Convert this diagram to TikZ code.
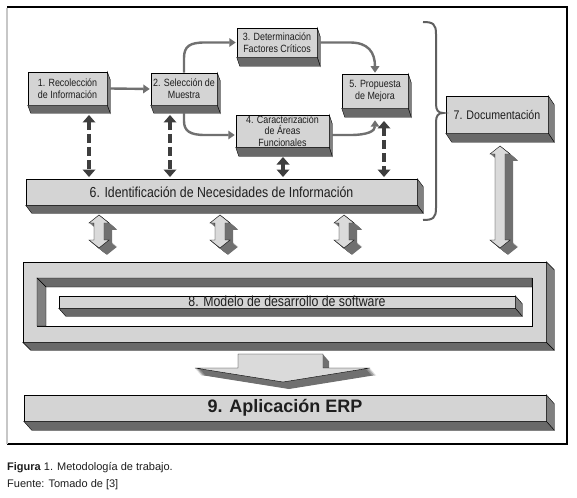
\documentclass[tikz,border=0pt]{standalone}
\usepackage{fontspec}
\setmainfont{Liberation Sans}
\newfontfamily\narrowfont[FakeStretch=0.85]{Liberation Sans}
\usetikzlibrary{calc,arrows.meta}
\definecolor{frontc}{RGB}{212,212,212}
\definecolor{sidec}{RGB}{128,128,128}
\definecolor{botc}{RGB}{105,105,105}
\definecolor{arrfront}{RGB}{218,218,218}
\definecolor{arrside}{RGB}{112,112,112}
\definecolor{conncol}{RGB}{112,112,112}
\definecolor{dashcol}{RGB}{62,62,62}
\definecolor{textc}{RGB}{30,30,30}
\definecolor{bracec}{RGB}{95,95,95}
\tikzset{
  box/.style={draw=black, line width=0.5pt, fill=frontc, inner sep=0pt, align=center,
    text=textc, font=\narrowfont\fontsize{10.5}{12}\selectfont},
  conn/.style={draw=conncol, line width=2.4pt, -{Triangle[width=8.5pt,length=6.5pt]}, shorten >=1pt},
  braceline/.style={draw=bracec, line width=2pt},
  captext/.style={anchor=base west, inner sep=0pt, text=textc, font=\fontsize{11}{12}\selectfont}
}
\newcommand{\mkextrude}[3]{%
  \filldraw[fill=sidec, draw=black, line width=0.4pt] (#1.north east) -- ++(#2,#3) -- ($(#1.south east)+(#2,#3)$) -- (#1.south east) -- cycle;
  \filldraw[fill=botc, draw=black, line width=0.4pt] (#1.south west) -- (#1.south east) -- ++(#2,#3) -- ($(#1.south west)+(#2,#3)$) -- cycle;
}
\newcommand{\blockarr}[3]{%
  \foreach \s in {0.5,1,...,8}{%
    \fill[arrside, shift={(\s,0.85*\s)}] (#1,#2) -- (#1+10,#2+8) -- (#1+5,#2+8) -- (#1+5,#3-8) -- (#1+10,#3-8) -- (#1,#3) -- (#1-10,#3-8) -- (#1-5,#3-8) -- (#1-5,#2+8) -- (#1-10,#2+8) -- cycle;}
  \filldraw[fill=arrfront, draw=black, line width=0.4pt] (#1,#2) -- (#1+10,#2+8) -- (#1+5,#2+8) -- (#1+5,#3-8) -- (#1+10,#3-8) -- (#1,#3) -- (#1-10,#3-8) -- (#1-5,#3-8) -- (#1-5,#2+8) -- (#1-10,#2+8) -- cycle;
}
\newcommand{\dblarr}[4]{%
  \draw[dashcol, line width=4pt, #4] (#1,#2+6) -- (#1,#3-6);
  \fill[dashcol] (#1,#2) -- (#1+6.5,#2+7.5) -- (#1-6.5,#2+7.5) -- cycle;
  \fill[dashcol] (#1,#3) -- (#1+6.5,#3-7.5) -- (#1-6.5,#3-7.5) -- cycle;
}
\begin{document}
\begin{tikzpicture}[x=1pt,y=-1pt]
\useasboundingbox (0,0) rectangle (577,497);
\fill[white] (0,0) rectangle (577,497);

% outer frame
\draw[black, line width=1.2pt] (7,7) -- (567,7) -- (567,444) -- (7,444);
\draw[black!22, line width=1.6pt] (7,8) -- (7,444);

% top boxes
\node[box, minimum width=79pt, minimum height=33pt] (b1) at (67.5,88.5) {1. Recolección\\de Información};
\mkextrude{b1}{3}{8}
\node[box, minimum width=66pt, minimum height=32pt] (b2) at (184,89) {2. Selección de\\Muestra};
\mkextrude{b2}{3}{8}
\node[box, minimum width=80pt, minimum height=29pt] (b3) at (277,42.5) {3. Determinación\\Factores Críticos};
\mkextrude{b3}{3}{9}
\node[box, minimum width=93pt, minimum height=32pt, font=\narrowfont\fontsize{10.5}{11.6}\selectfont] (b4) at (282.5,131) {4. Caracterización\\de Áreas\\Funcionales};
\mkextrude{b4}{3}{9}
\node[box, minimum width=66pt, minimum height=34pt] (b5) at (375,91) {5. Propuesta\\de Mejora};
\mkextrude{b5}{3}{9}
\node[box, minimum width=391pt, minimum height=26pt, font=\narrowfont\fontsize{14.5}{16}\selectfont] (b6) at (221.5,192) {6. Identificación de Necesidades de Información};
\mkextrude{b6}{6}{8}
\node[box, minimum width=102pt, minimum height=37pt, font=\narrowfont\fontsize{12.5}{14}\selectfont] (b7) at (497,114.5) {7. Documentación};
\mkextrude{b7}{6}{9}

% curved connectors
\draw[conn] ([xshift=3pt]b1.east) -- (b2.west);
\draw[conn] (b2.north) -- (184,58) .. controls (184,46) and (190,42.5) .. (205,42.5) -- (b3.west);
\draw[conn] ($(b2.south)+(0,8)$) -- (184,121) .. controls (184,131) and (190,135) .. (205,135) -- (b4.west |- 0,135);
\draw[conn] ([xshift=3pt]b3.east) -- (350,42.5) .. controls (368,42.5) and (375,52) .. (b5.north);
\draw[conn] (332,135) -- (350,135) .. controls (368,135) and (375,131) .. ($(b5.south)+(0,11)$);

% dashed double arrows
\dblarr{89}{115}{177}{dash pattern=on 9pt off 4pt}
\dblarr{170}{115}{177}{dash pattern=on 9pt off 4pt}
\dblarr{283}{157}{177}{}
\dblarr{384}{121}{177}{dash pattern=on 9pt off 4pt}

% brace
\draw[braceline] (423,22) .. controls (433,22) and (436,24) .. (436,34) -- (436,104)
  .. controls (436,110) and (438,113) .. (443,113)
  .. controls (438,113) and (436,116) .. (436,122) -- (436,208)
  .. controls (436,218) and (433,220) .. (423,220);

% 3D block double arrows
\blockarr{99}{215}{248}
\blockarr{220}{215}{248}
\blockarr{344}{215}{248}
\blockarr{500}{146}{248}

% model frame (8)
\node[box, minimum width=523pt, minimum height=80pt] (b8) at (284.5,302) {};
\mkextrude{b8}{8}{8}
\filldraw[fill=white, draw=black, line width=0.5pt] (37,278) rectangle (532,326);
\filldraw[fill=botc, draw=black, line width=0.4pt] (37,278) -- (532,278) -- (532,287) -- (46,287) -- cycle;
\filldraw[fill=sidec, draw=black, line width=0.4pt] (37,278) -- (46,287) -- (46,326) -- (37,326) -- cycle;
\node[box, minimum width=456pt, minimum height=12pt, text height=10.5pt, text depth=1.5pt,
  font=\narrowfont\fontsize{14.5}{16}\selectfont] (b8i) at (287,302) {8. Modelo de desarrollo de software};
\mkextrude{b8i}{7}{8}

% big down arrow
\foreach \s in {0.5,1,...,7}{%
  \fill[arrside, shift={(0.86*\s,\s)}] (238,354) -- (323,354) -- (323,368) -- (370,368) -- (283,382) -- (195,368) -- (238,368) -- cycle;}
\filldraw[fill=arrfront, draw=black, line width=0.4pt] (238,354) -- (323,354) -- (323,368) -- (370,368) -- (283,382) -- (195,368) -- (238,368) -- cycle;

% ERP box (9)
\node[box, minimum width=522pt, minimum height=26pt, font=\fontsize{18}{20}\selectfont\bfseries] (b9) at (285,408) {9. Aplicación ERP};
\mkextrude{b9}{8}{9}

% caption
\node[captext] (cap1) at (7,470) {\textbf{Figura} 1. Metodología de trabajo.};
\node[captext] (cap2) at (7,487) {Fuente: Tomado de [3]};
\end{tikzpicture}
\end{document}
